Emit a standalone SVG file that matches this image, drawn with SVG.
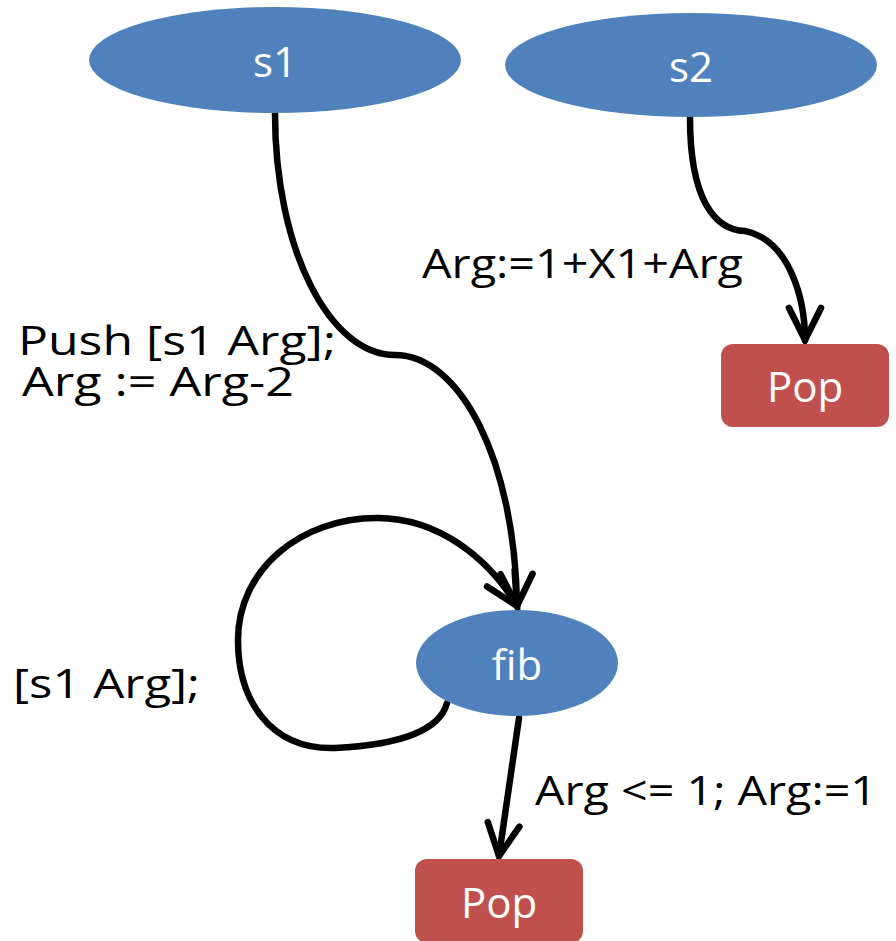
<svg xmlns="http://www.w3.org/2000/svg" width="896" height="941" viewBox="0 0 896 941">
<style>
.state{fill:#4F81BD}
.pop{fill:#C0504D}
.nl{font-family:"Open Sans","Noto Sans","DejaVu Sans",sans-serif;font-size:42px;fill:#ffffff;text-anchor:middle}
.el{font-family:"Open Sans","Noto Sans","DejaVu Sans",sans-serif;font-size:40px;fill:#000000}
.edge{fill:none;stroke:#000;stroke-width:6.5;stroke-linecap:round}
</style>
<defs>
<marker id="arr" markerUnits="userSpaceOnUse" markerWidth="80" markerHeight="80" viewBox="-40 -40 80 80" refX="0" refY="0" orient="auto" overflow="visible">
<path d="M-32,-16 L0,0 L-32,16" fill="none" stroke="#000" stroke-width="6.5" stroke-linecap="round" stroke-linejoin="miter"/>
</marker>
</defs>
<rect width="896" height="941" fill="#ffffff"/>
<g id="connectors">
<path class="edge" d="M275,113 C275,250 330,355 395,355 C460,355 515,460 517,606" marker-end="url(#arr)"/>
<path class="edge" d="M447,703 C440,730 400,745 335,748 C270,750 238,700 238,640 C238,570 300,518 377,518 C440,518 490,560 517,606" marker-end="url(#arr)"/>
<path class="edge" d="M690,118 C690,200 715,230 745,231 C790,240 805,300 805,340" marker-end="url(#arr)"/>
<path class="edge" d="M519,718 L499,856" marker-end="url(#arr)"/>
<text class="el" x="18" y="355" textLength="318" lengthAdjust="spacingAndGlyphs">Push [s1 Arg];</text>
<text class="el" x="22" y="396" textLength="272" lengthAdjust="spacingAndGlyphs">Arg := Arg-2</text>
<text class="el" x="422" y="278" textLength="321" lengthAdjust="spacingAndGlyphs">Arg:=1+X1+Arg</text>
<text class="el" x="13" y="698" textLength="187" lengthAdjust="spacingAndGlyphs">[s1 Arg];</text>
<text class="el" x="535" y="805" textLength="342" lengthAdjust="spacingAndGlyphs">Arg &lt;= 1; Arg:=1</text>
</g>
<g id="s1">
<ellipse class="state" cx="275" cy="60" rx="186" ry="53"/>
<text class="nl" x="275" y="77">s1</text>
</g>
<g id="s2">
<ellipse class="state" cx="691" cy="65" rx="186" ry="52"/>
<text class="nl" x="691" y="82">s2</text>
</g>
<g id="fib">
<ellipse class="state" cx="517" cy="663" rx="101" ry="53"/>
<text class="nl" x="517" y="680">fib</text>
</g>
<g id="pop1">
<rect class="pop" x="721" y="344" width="168" height="83" rx="12"/>
<text class="nl" x="805" y="402">Pop</text>
</g>
<g id="pop2">
<rect class="pop" x="415" y="859" width="168" height="84" rx="12"/>
<text class="nl" x="499" y="918">Pop</text>
</g>
</svg>
